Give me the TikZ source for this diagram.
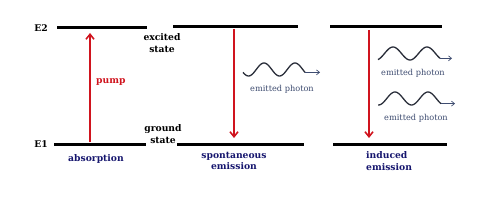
\documentclass[tikz,border=0pt]{standalone}
\usepackage{fontspec}
\setmainfont{DejaVu Serif}
\usepackage{xcolor}
\usepackage{tikz}
\usetikzlibrary{arrows.meta,positioning,calc}
\definecolor{laserred}{HTML}{D0141E}
\definecolor{lasernavy}{HTML}{16166E}
\definecolor{laserwave}{HTML}{2A2E3A}
\definecolor{laserphoton}{HTML}{3E4C70}
\newcommand{\lbl}{\fontsize{9.2}{11.5}\selectfont\bfseries}

\begin{document}
\begin{tikzpicture}[
  x=1pt, y=-1pt,
  every node/.style={inner sep=0pt},
  level/.style={line width=3pt, draw=black},
  transition/.style={-{Straight Barb[length=5pt,width=8pt]}, line width=1.6pt, draw=laserred},
  wave/.style={line width=1.3pt, draw=laserwave, smooth, samples=60},
  waveout/.style={-{Straight Barb[length=3pt,width=5pt]}, line width=0.7pt, draw=laserphoton},
  energy/.style={font=\lbl, text=black},
  statelbl/.style={font=\lbl, text=black, align=center},
  process/.style={font=\lbl, text=lasernavy, align=center},
  photonlbl/.style={font=\fontsize{8.2}{9}\selectfont, text=laserphoton}
]
\useasboundingbox (0,0) rectangle (500,211);

% energy levels
\coordinate (absE2w) at (57,28);  \coordinate (absE2e) at (147,28);
\coordinate (absE1w) at (54,144); \coordinate (absE1e) at (146,144);
\coordinate (spoE2w) at (173,27); \coordinate (spoE2e) at (298,27);
\coordinate (spoE1w) at (177,144);\coordinate (spoE1e) at (304,144);
\coordinate (indE2w) at (330,27); \coordinate (indE2e) at (442,27);
\coordinate (indE1w) at (333,144);\coordinate (indE1e) at (447,144);
\draw[level] (absE2w) -- (absE2e);
\draw[level] (absE1w) -- (absE1e);
\draw[level] (spoE2w) -- (spoE2e);
\draw[level] (spoE1w) -- (spoE1e);
\draw[level] (indE2w) -- (indE2e);
\draw[level] (indE1w) -- (indE1e);

\node[energy] (E2) at (41,28) {E2};
\node[energy] (E1) at (41,144) {E1};
\node[statelbl] (excited) at (162,43) {excited\\state};
\node[statelbl] (ground) at (163,134) {ground\\state};

% transitions
\coordinate (pumpfrom) at (90,142);  \coordinate (pumpto) at (90,33);
\coordinate (spofrom) at (234,29);   \coordinate (spoto) at (234,138);
\coordinate (indfrom) at (369,30);   \coordinate (indto) at (369,138);
\draw[transition] (pumpfrom) -- (pumpto);
\draw[transition] (spofrom) -- (spoto);
\draw[transition] (indfrom) -- (indto);
\node[font=\lbl, text=laserred, anchor=west] (pump) at (96,82) {pump};

% photons
\draw[wave] plot[domain=243:305] ({\x},{69.5-6.5*cos(360/31*(\x-264))}) coordinate (spowave);
\coordinate (spotip) at (320,76);
\draw[waveout] (spowave) -- (spowave -| spotip);
\node[photonlbl] (spophoton) at (282,89) {emitted photon};

\draw[wave] plot[domain=378:440] ({\x},{53.5-6.5*cos(360/34*(\x-393))}) coordinate (indwaveA);
\coordinate (indtipA) at (452,58);
\draw[waveout] (indwaveA) -- (indwaveA -| indtipA);
\node[photonlbl] (indphotonA) at (413,73) {emitted photon};

\draw[wave] plot[domain=378:441] ({\x},{98.5-6.5*cos(360/33*(\x-395))}) coordinate (indwaveB);
\coordinate (indtipB) at (455,104);
\draw[waveout] (indwaveB) -- (indwaveB -| indtipB);
\node[photonlbl] (indphotonB) at (416,118) {emitted photon};

% process names
\node[process] (absorption) at (96,159) {absorption};
\node[process] (spontaneous) at (234,161) {spontaneous\\emission};
\node[process, align=left, anchor=west] (induced) at (366,161) {induced\\emission};
\end{tikzpicture}
\end{document}
